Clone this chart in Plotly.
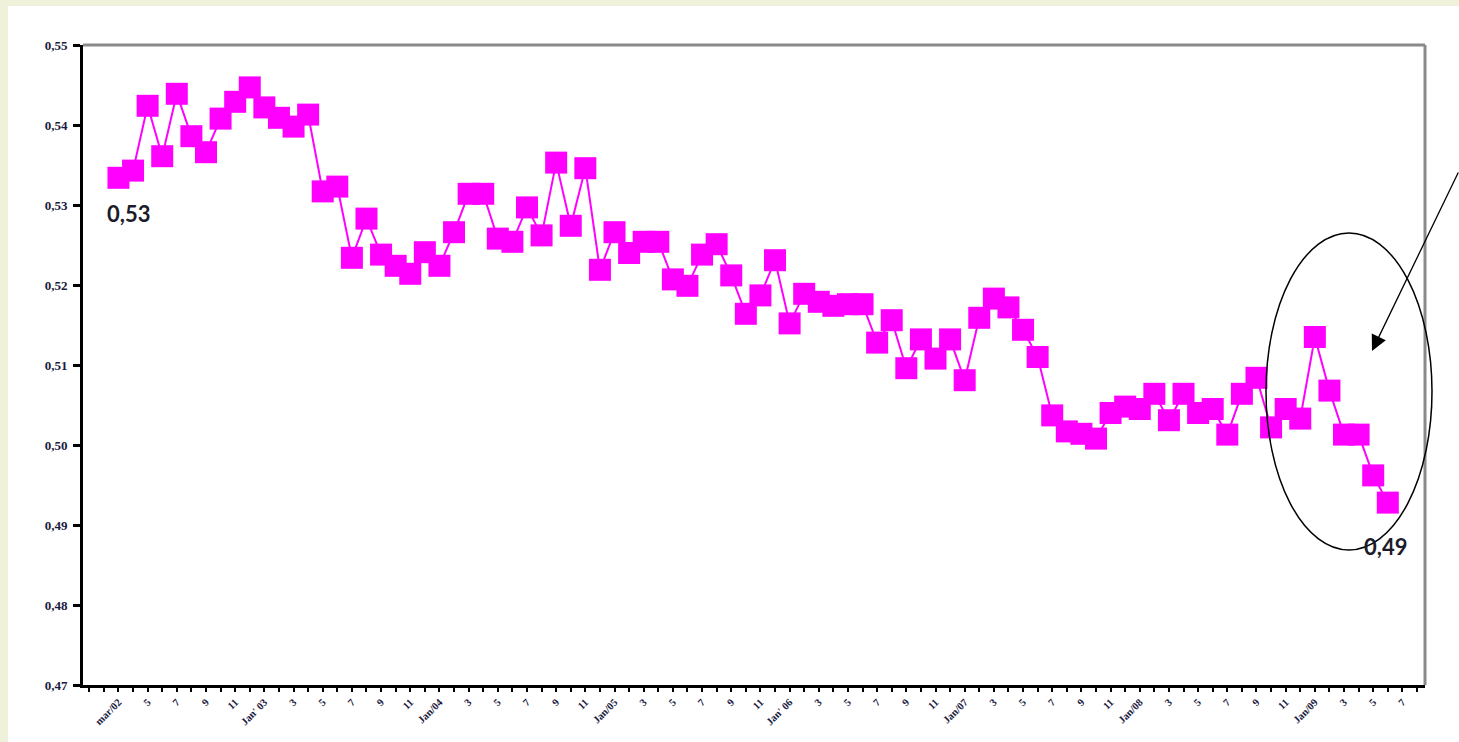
import plotly.graph_objects as go

# ---- data ----
values = [
    0.5334, 0.5343, 0.5424, 0.5361, 0.5439, 0.5386, 0.5366, 0.5408, 0.5429, 0.5447,
    0.5422, 0.5409, 0.5398, 0.5413, 0.5317, 0.5323, 0.5234, 0.5283, 0.5238, 0.5224,
    0.5214, 0.5241, 0.5224, 0.5266, 0.5314, 0.5314, 0.5258, 0.5254, 0.5297, 0.5262,
    0.5353, 0.5274, 0.5346, 0.5219, 0.5266, 0.5240, 0.5254, 0.5254, 0.5207, 0.5199,
    0.5238, 0.5251, 0.5212, 0.5164, 0.5187, 0.5231, 0.5152, 0.5189, 0.5179, 0.5174,
    0.5176, 0.5176, 0.5128, 0.5156, 0.5096, 0.5132, 0.5108, 0.5132, 0.5081, 0.5159,
    0.5183, 0.5172, 0.5144, 0.5110, 0.5037, 0.5017, 0.5014, 0.5008, 0.5040, 0.5048,
    0.5045, 0.5064, 0.5031, 0.5064, 0.5040, 0.5045, 0.5013, 0.5064, 0.5084, 0.5022,
    0.5045, 0.5033, 0.5135, 0.5068, 0.5013, 0.5013, 0.4962, 0.4928,
]
months = list(range(len(values)))  # month index, 0 = mar/02

tick_positions = list(range(0, 89, 2))
tick_labels = [
    "mar/02", "5", "7", "9", "11",
    "Jan' 03", "3", "5", "7", "9", "11",
    "Jan/04", "3", "5", "7", "9", "11",
    "Jan/05", "3", "5", "7", "9", "11",
    "Jan' 06", "3", "5", "7", "9", "11",
    "Jan/07", "3", "5", "7", "9", "11",
    "Jan/08", "3", "5", "7", "9", "11",
    "Jan/09", "3", "5", "7",
]
y_ticks = [0.47, 0.48, 0.49, 0.50, 0.51, 0.52, 0.53, 0.54, 0.55]
y_tick_labels = ["0,47", "0,48", "0,49", "0,50", "0,51", "0,52", "0,53", "0,54", "0,55"]

first_label = "0,53"
last_label = "0,49"

# ---- layout geometry (page pixels, body margin removed) ----
W, H = 1459, 742
L, R, T, B = 83, 1425, 45, 685
PW, PH = R - L, B - T


def px(x):
    return (x - L) / PW


def py(y):
    return (B - y) / PH


fig = go.Figure()
fig.add_trace(go.Scatter(
    x=months, y=values, mode="lines+markers",
    line=dict(color="#ff00ff", width=2),
    marker=dict(symbol="square", size=22, color="#ff00ff", line=dict(width=0)),
    hoverinfo="x+y", showlegend=False,
))

tick_font = dict(family="Liberation Serif", size=10.5, color="#1a1a40", weight="bold")

fig.update_layout(
    width=W, height=H,
    margin=dict(l=L, r=W - R, t=T, b=H - B, pad=0),
    paper_bgcolor="#eff1da",
    plot_bgcolor="white",
    showlegend=False,
    xaxis=dict(
        range=[-2.43, 89.55], showgrid=False, zeroline=False,
        showline=True, linecolor="black", linewidth=3,
        tickmode="array", tickvals=tick_positions, ticktext=tick_labels,
        ticks="outside", ticklen=4, tickwidth=2, tickcolor="black",
        tickangle=-45, tickfont=tick_font,
        minor=dict(tickmode="linear", tick0=0, dtick=1, ticks="outside",
                   ticklen=4, tickwidth=2, tickcolor="black"),
    ),
    yaxis=dict(
        range=[0.47, 0.55], showgrid=False, zeroline=False,
        showline=True, linecolor="black", linewidth=3,
        tickmode="array", tickvals=y_ticks, ticktext=y_tick_labels,
        ticks="outside", ticklen=7, tickwidth=3, tickcolor="black",
        tickfont=dict(family="Liberation Serif", size=13, color="#1a1a40", weight="bold"),
        ticklabelstandoff=3,
    ),
    shapes=[
        # white card behind the chart
        dict(type="rect", xref="paper", yref="paper",
             x0=px(8), x1=px(W + 5), y0=py(H + 5), y1=py(6),
             fillcolor="white", line=dict(width=0), layer="below"),
        # grey top and right frame
        dict(type="line", xref="paper", yref="paper", x0=0, x1=1, y0=1, y1=1,
             line=dict(color="#8a8a8a", width=3)),
        dict(type="line", xref="paper", yref="paper", x0=1, x1=1, y0=0, y1=1,
             line=dict(color="#8a8a8a", width=3)),
        # ellipse around the last months
        dict(type="circle", xref="paper", yref="paper",
             x0=px(1266), x1=px(1432), y0=py(550), y1=py(233),
             line=dict(color="black", width=1.5)),
    ],
    annotations=[
        dict(xref="paper", yref="paper", x=px(128.5), y=py(213.5), text=first_label,
             showarrow=False, xanchor="center", yanchor="middle",
             font=dict(family="Lato", size=22, color="#1b1b2b", weight="bold")),
        dict(xref="paper", yref="paper", x=px(1385), y=py(546.5), text=last_label,
             showarrow=False, xanchor="center", yanchor="middle",
             font=dict(family="Lato", size=22, color="#1b1b2b", weight="bold")),
        dict(xref="paper", yref="paper", x=px(1372), y=py(351), text="",
             showarrow=True, arrowhead=2, arrowsize=2.4, arrowwidth=1.3,
             arrowcolor="black", ax=95, ay=-180, standoff=0),
    ],
)

fig.write_html(
    "out.html",
    config={"displayModeBar": False},
    post_script="document.body.style.margin='0';"
                "document.body.style.overflow='hidden';",
)
